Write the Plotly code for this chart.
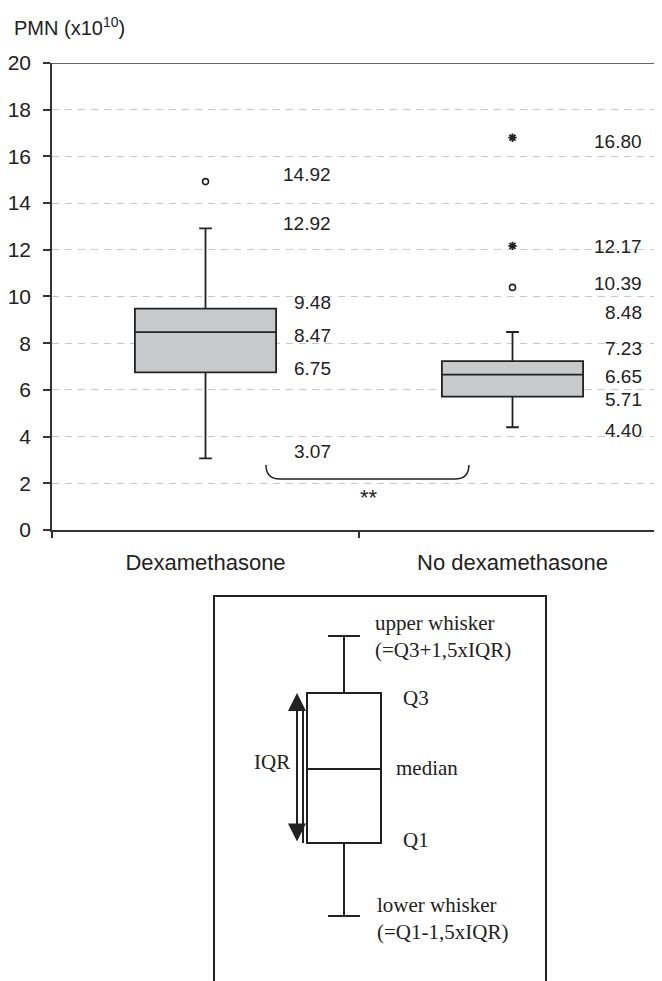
import plotly.graph_objects as go

# ---- data ----
groups = ["Dexamethasone", "No dexamethasone"]
lower_whisker = [3.07, 4.40]
q1 = [6.75, 5.71]
median = [8.47, 6.65]
q3 = [9.48, 7.23]
upper_whisker = [12.92, 8.48]
circle_outliers = [[14.92], [10.39]]
star_outliers = [[], [12.17, 16.80]]

# schematic (legend) box, arbitrary units
schem_stats = dict(lowerfence=65, q1=138, median=212, q3=288, upperfence=345)

TEXT = "#222222"
LINE = "#333333"
SANS = "Liberation Sans, Arial, sans-serif"
SERIF = "Liberation Serif, Times New Roman, serif"

fig = go.Figure()

# main box plots
fig.add_trace(go.Box(
    x=groups, q1=q1, median=median, q3=q3,
    lowerfence=lower_whisker, upperfence=upper_whisker,
    width=0.46, whiskerwidth=0.09,
    fillcolor="#c8c9cb", line=dict(color=TEXT, width=1.8),
    boxpoints=False, hoverinfo="skip", showlegend=False,
))

for g, vals in zip(groups, circle_outliers):
    fig.add_trace(go.Scatter(
        x=[g] * len(vals), y=vals, mode="markers",
        marker=dict(symbol="circle-open", size=6, color=TEXT, line=dict(width=1.6)),
        showlegend=False, hoverinfo="skip",
    ))
for g, vals in zip(groups, star_outliers):
    if vals:
        fig.add_trace(go.Scatter(
            x=[g] * len(vals), y=vals, mode="markers",
            marker=dict(symbol="asterisk-open", size=7, color=TEXT, line=dict(width=1.8, color=TEXT)),
            showlegend=False, hoverinfo="skip",
        ))

# value labels next to each box (label offsets in px so they don't collide)
label_shifts = [
    {3.07: 7, 6.75: 4, 8.47: -3, 9.48: 6, 12.92: 5, 14.92: 7},
    {4.40: -3, 5.71: -3, 6.65: -2, 7.23: 13, 8.48: 19, 10.39: 4, 12.17: -1, 16.80: -4},
]
label_xshift = [127, 131]
for i, g in enumerate(groups):
    vals = [lower_whisker[i], q1[i], median[i], q3[i], upper_whisker[i]] + circle_outliers[i] + star_outliers[i]
    for v in vals:
        fig.add_annotation(
            x=i, y=v, xref="x", yref="y", text=f"{v:.2f}", showarrow=False,
            xanchor="right", yanchor="middle", xshift=label_xshift[i],
            yshift=label_shifts[i].get(v, 0),
            font=dict(family=SANS, size=19, color=TEXT),
        )

# brace + significance
bx0, bx1, by0, by1 = 0.3485, 0.679, 2.78, 2.18
rx = 0.0228
fig.add_shape(
    type="path", xref="x domain", yref="y",
    path=(f"M {bx0},{by0} Q {bx0},{by1} {bx0 + rx},{by1} L {bx1 - rx},{by1} "
          f"Q {bx1},{by1} {bx1},{by0}"),
    line=dict(color=TEXT, width=1.5),
)
fig.add_annotation(x=0.516, y=1.4, xref="x domain", yref="y", text="**", showarrow=False,
                   font=dict(family=SANS, size=22, color=TEXT))

# solid top border at 20
fig.add_shape(type="line", xref="x domain", yref="y", x0=0, x1=1, y0=20, y1=20,
              line=dict(color=LINE, width=1.5))

# title
fig.add_annotation(x=-0.065, y=1.04, xref="paper", yref="paper", xanchor="left", yanchor="middle",
                   text="PMN (x10<sup>10</sup>)", showarrow=False,
                   font=dict(family=SANS, size=20, color=TEXT))

# ---- schematic legend box ----
fig.add_trace(go.Box(
    x=[344], q1=[schem_stats["q1"]], median=[schem_stats["median"]], q3=[schem_stats["q3"]],
    lowerfence=[schem_stats["lowerfence"]], upperfence=[schem_stats["upperfence"]],
    width=74, whiskerwidth=0.43, fillcolor="white", line=dict(color=TEXT, width=2),
    boxpoints=False, hoverinfo="skip", showlegend=False, xaxis="x2", yaxis="y2",
))

fig.add_shape(type="rect", xref="x2", yref="y2", x0=214, x1=546, y0=-30, y1=385,
              line=dict(color=TEXT, width=2))

# IQR arrow (double headed) and second shaft line
fig.add_annotation(
    x=297, y=schem_stats["q3"], ax=297, ay=schem_stats["q1"],
    xref="x2", yref="y2", axref="x2", ayref="y2", text="", showarrow=True,
    arrowhead=2, startarrowhead=2, arrowside="end+start", arrowsize=1.8, startarrowsize=1.8,
    arrowwidth=2, arrowcolor=TEXT,
)
fig.add_shape(type="line", xref="x2", yref="y2", x0=303, x1=303, y0=schem_stats["q1"], y1=271,
              line=dict(color=TEXT, width=2))

serif_font = dict(family=SERIF, size=21, color=TEXT)
schem_labels = [
    ("upper whisker<br>(=Q3+1,5xIQR)", 373, schem_stats["upperfence"], 0),
    ("Q3", 401, schem_stats["q3"], -5),
    ("median", 394, schem_stats["median"], 1),
    ("Q1", 401, schem_stats["q1"], 3),
    ("lower whisker<br>(=Q1-1,5xIQR)", 375, schem_stats["lowerfence"], -2),
]
for txt, x, y, ys in schem_labels:
    fig.add_annotation(x=x, y=y, xref="x2", yref="y2", text=txt, showarrow=False,
                       xanchor="left", yanchor="middle", align="left", yshift=ys, font=serif_font)
fig.add_annotation(x=292, y=(schem_stats["q1"] + schem_stats["q3"]) / 2, xref="x2", yref="y2",
                   text="IQR", showarrow=False, xanchor="right", yanchor="middle", yshift=6,
                   font=serif_font)

# page body adds an 8px offset, so margins are shifted by -8
fig.update_layout(
    width=662, height=981,
    margin=dict(l=44, r=4, t=55, b=8, autoexpand=False),
    paper_bgcolor="white", plot_bgcolor="white",
    showlegend=False,
    xaxis=dict(
        type="category", range=[-0.5, 1.5], anchor="y", automargin=False,
        showline=True, linecolor=LINE, linewidth=1.5,
        ticks="outside", tickson="boundaries", ticklen=6, tickcolor=LINE, tickwidth=1.5,
        showgrid=False, tickfont=dict(family=SANS, size=22, color=TEXT),
        ticklabelstandoff=12,
    ),
    yaxis=dict(
        domain=[0.4913, 1], range=[0, 20], dtick=2, automargin=False,
        showline=True, linecolor=LINE, linewidth=1.5,
        ticks="outside", ticklen=7, tickcolor=LINE, tickwidth=1.5,
        showgrid=True, gridcolor="#c8c8c8", griddash="7px,6px", gridwidth=1,
        zeroline=False, tickfont=dict(family=SANS, size=21, color=TEXT),
        ticklabelstandoff=8,
    ),
    xaxis2=dict(domain=[0, 1], range=[52, 666], anchor="y2", visible=False, automargin=False),
    yaxis2=dict(domain=[0, 0.44], range=[0, 404], anchor="x2", visible=False, automargin=False),
)

fig.write_html("out.html")
